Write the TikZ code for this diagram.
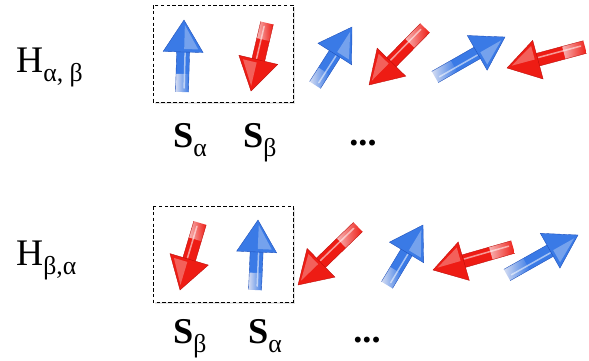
\documentclass[tikz,border=0pt]{standalone}
\usepackage{fontspec}
\setmainfont{Liberation Serif}
\definecolor{spinblue}{RGB}{58,122,230}
\definecolor{spinblueD}{RGB}{28,78,185}
\definecolor{spinblueL}{RGB}{212,220,242}
\definecolor{spinred}{RGB}{238,28,20}
\definecolor{spinredD}{RGB}{185,12,8}
\definecolor{spinredL}{RGB}{247,180,180}
\newcommand{\sub}[1]{{\mdseries\fontsize{22}{22}\selectfont\raisebox{-8pt}{#1}}}
% glossy spin arrow: colour, tail x/y, tip x/y (pixel units)
\newcommand{\spin}[5]{%
  \pgfmathsetmacro\spinang{atan2(-(#5-#3),#4-#2)}%
  \pgfmathsetmacro\spinlen{veclen(#4-#2,#5-#3)}%
  \pgfmathsetmacro\spinbase{\spinlen-32}%
  \pgfmathsetmacro\spinfade{0.45*\spinbase}%
  \begin{scope}[shift={(#2,#3)}, rotate=\spinang]
    \fill[spin#1] (\spinfade-0.5,-6.5) rectangle (\spinbase+1,6.5);
    \shade[left color=spin#1L, right color=spin#1]
      (0,-6.5) rectangle (\spinfade,6.5);
    \draw[spin#1D, line width=0.3pt] (0,-6.5) -- (\spinbase,-6.5) (0,6.5) -- (\spinbase,6.5);
    \draw[white, opacity=0.55, line width=1.3pt, line cap=round] (4,2) -- (\spinbase-1,2);
    \fill[spin#1, draw=spin#1D, line width=0.3pt] (\spinbase,-20) -- (\spinlen,0) -- (\spinbase,20) -- cycle;
    \fill[white, opacity=0.3] (\spinbase+3,15) -- (\spinlen-5,1) -- (\spinbase+3,1) -- cycle;
  \end{scope}}
\begin{document}
\begin{tikzpicture}[x=0.03cm, y=-0.03cm,
  lbl/.style={font=\fontsize{32}{32}\selectfont, inner sep=0pt, anchor=base west},
  spinlbl/.style={font=\fontsize{31}{31}\selectfont\bfseries, inner sep=0pt, anchor=base west},
  pairbox/.style={draw, densely dashed, line width=0.7pt}
]
  \useasboundingbox (0,0) rectangle (589,360);

  % top row
  \node[lbl] (hab) at (16,72) {H\sub{α, β}};
  \fill[black!10] (155,7) rectangle (295,104);
  \fill[white] (153,5) rectangle (293,102);
  \draw[pairbox] (153,5) rectangle (293,102);
  \spin{blue}{182}{92}{184}{20}
  \spin{red}{267}{23}{251}{91}
  \spin{blue}{315}{85}{352}{27}
  \spin{red}{425}{28}{369}{85}
  \spin{blue}{435}{77}{505}{37}
  \spin{red}{585}{47}{507}{68}
  \node[spinlbl] (sa1) at (173,147) {S\sub{α}};
  \node[spinlbl] (sb1) at (243,147) {S\sub{β}};
  \node[spinlbl, anchor=base] (dots1) at (363,145) {...};

  % bottom row
  \node[lbl] (hba) at (16,265) {H\sub{β,α}};
  \fill[black!10] (155,208) rectangle (295,304);
  \fill[white] (153,206) rectangle (293,302);
  \draw[pairbox] (153,206) rectangle (293,302);
  \spin{red}{200}{223}{180}{290}
  \spin{blue}{255}{290}{258}{220}
  \spin{red}{358}{227}{298}{285}
  \spin{blue}{387}{285}{423}{225}
  \spin{red}{513}{247}{433}{270}
  \spin{blue}{507}{275}{578}{235}
  \node[spinlbl] (sb2) at (173,343) {S\sub{β}};
  \node[spinlbl] (sa2) at (248,343) {S\sub{α}};
  \node[spinlbl, anchor=base] (dots2) at (367,342) {...};
\end{tikzpicture}
\end{document}
